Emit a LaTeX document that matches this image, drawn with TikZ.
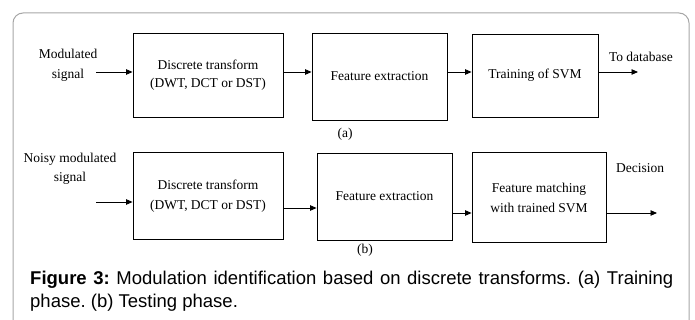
\documentclass[tikz,border=0pt]{standalone}
\usepackage{fontspec}
\setmainfont{Liberation Serif}
\setsansfont{Liberation Sans}
\usetikzlibrary{arrows.meta,positioning}
\frenchspacing

\begin{document}
\begin{tikzpicture}[x=1pt,y=-1pt,font=\fontsize{13.5}{18}\selectfont,
  blk/.style={draw,line width=0.9pt,align=center,inner sep=0pt},
  sig/.style={-{Triangle[length=6.5pt,width=5.5pt]},line width=0.9pt}]
  \useasboundingbox (0,0) rectangle (695,320);
  \draw[black!35,line width=1pt,rounded corners=10pt] (13,330) -- (13,13) -- (689,13) -- (689,330);
  % (a) training
  \node[align=center,font=\fontsize{13.5}{20}\selectfont] (mod1) at (68,65) {Modulated\\signal};
  \node[blk,minimum width=150pt,minimum height=84pt] (dt1) at (208,75) {Discrete transform\\(DWT, DCT or DST)};
  \node[blk,minimum width=135pt,minimum height=87pt] (fe1) at (379.5,76.5) {Feature extraction};
  \node[blk,minimum width=126pt,minimum height=83pt] (svm1) at (535,75.5) {Training of SVM};
  \node (db) at (641,57) {To database};
  \node (capa) at (345,134) {(a)};
  \coordinate (in1) at (96,72);
  \coordinate (out1) at (638,72);
  \draw[sig] (in1) -- (dt1.west |- in1);
  \draw[sig] (dt1.east |- in1) -- (fe1.west |- in1);
  \draw[sig] (fe1.east |- in1) -- (svm1.west |- in1);
  \draw[sig] (svm1.east |- out1) -- (out1);
  % (b) testing
  \node[align=center,font=\fontsize{13.5}{19}\selectfont] (mod2) at (70,168.5) {Noisy modulated\\signal};
  \node[blk,minimum width=150pt,minimum height=87pt,font=\fontsize{13.5}{20}\selectfont] (dt2) at (208,196) {Discrete transform\\(DWT, DCT or DST)};
  \node[blk,minimum width=135pt,minimum height=87pt] (fe2) at (384.5,196.5) {Feature extraction};
  \node[blk,minimum width=134pt,minimum height=90pt,font=\fontsize{13.5}{20}\selectfont] (svm2) at (539,197.5) {Feature matching\\with trained SVM};
  \node (dec) at (640,168) {Decision};
  \node (capb) at (365,250) {(b)};
  \coordinate (in2) at (96,202);
  \coordinate (mid2) at (300,208);
  \coordinate (out2) at (657,213);
  \draw[sig] (in2) -- (dt2.west |- in2);
  \draw[sig] (dt2.east |- mid2) -- (fe2.west |- mid2);
  \draw[sig] (fe2.east |- out2) -- (svm2.west |- out2);
  \draw[sig] (svm2.east |- out2) -- (out2);
  % caption
  \node[anchor=north west,text width=643pt,align=justify,inner sep=0pt,
    font=\sffamily\fontsize{18.5}{22.5}\selectfont] (cap) at (30,271)
    {\textbf{Figure 3:} Modulation identification based on discrete transforms. (a) Training phase. (b) Testing phase.};
\end{tikzpicture}
\end{document}
